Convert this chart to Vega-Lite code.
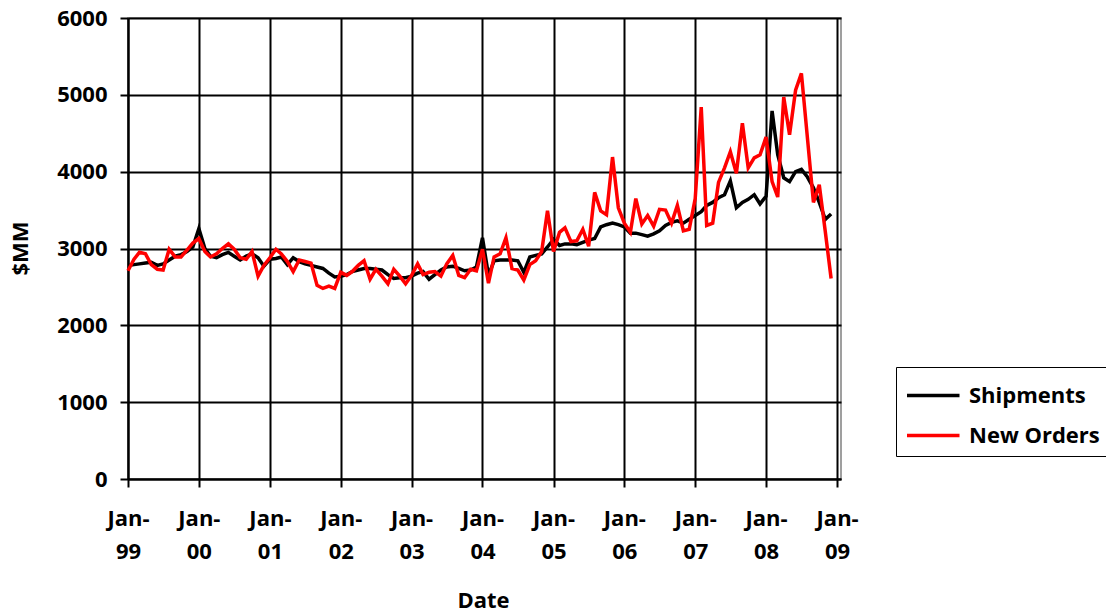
{
  "$schema": "https://vega.github.io/schema/vega-lite/v6.json",
  "width": 713,
  "height": 461,
  "autosize": {"type": "none"},
  "padding": {"left": 128, "top": 18, "right": 265, "bottom": 134},
  "background": "white",
  "config": {
    "font": "Open Sans",
    "view": {"stroke": "#808080", "strokeWidth": 1.5},
    "axis": {
      "labelFont": "Open Sans", "titleFont": "Open Sans",
      "labelFontSize": 22, "labelFontWeight": "bold", "labelColor": "black",
      "titleFontSize": 22, "titleFontWeight": "bold", "titleColor": "black",
      "grid": true, "gridColor": "black", "gridWidth": 2, "gridOpacity": 1,
      "domainColor": "black", "domainWidth": 2,
      "tickColor": "black", "tickWidth": 2, "tickSize": 8
    },
    "legend": {
      "labelFont": "Open Sans", "labelFontSize": 22, "labelFontWeight": "bold", "labelColor": "black"
    }
  },
  "data": {
    "values": [
      {"d": "1999-01-01", "Shipments": 2780, "New Orders": 2710},
      {"d": "1999-02-01", "Shipments": 2790, "New Orders": 2860},
      {"d": "1999-03-01", "Shipments": 2800, "New Orders": 2950},
      {"d": "1999-04-01", "Shipments": 2810, "New Orders": 2930},
      {"d": "1999-05-01", "Shipments": 2820, "New Orders": 2790},
      {"d": "1999-06-01", "Shipments": 2780, "New Orders": 2730},
      {"d": "1999-07-01", "Shipments": 2800, "New Orders": 2720},
      {"d": "1999-08-01", "Shipments": 2850, "New Orders": 2990},
      {"d": "1999-09-01", "Shipments": 2900, "New Orders": 2890},
      {"d": "1999-10-01", "Shipments": 2920, "New Orders": 2890},
      {"d": "1999-11-01", "Shipments": 2960, "New Orders": 2980},
      {"d": "1999-12-01", "Shipments": 3020, "New Orders": 3070},
      {"d": "2000-01-01", "Shipments": 3260, "New Orders": 3130},
      {"d": "2000-02-01", "Shipments": 3000, "New Orders": 2960},
      {"d": "2000-03-01", "Shipments": 2900, "New Orders": 2890},
      {"d": "2000-04-01", "Shipments": 2880, "New Orders": 2930},
      {"d": "2000-05-01", "Shipments": 2920, "New Orders": 3000},
      {"d": "2000-06-01", "Shipments": 2950, "New Orders": 3060},
      {"d": "2000-07-01", "Shipments": 2900, "New Orders": 2990},
      {"d": "2000-08-01", "Shipments": 2850, "New Orders": 2880},
      {"d": "2000-09-01", "Shipments": 2900, "New Orders": 2860},
      {"d": "2000-10-01", "Shipments": 2930, "New Orders": 2960},
      {"d": "2000-11-01", "Shipments": 2880, "New Orders": 2640},
      {"d": "2000-12-01", "Shipments": 2770, "New Orders": 2780},
      {"d": "2001-01-01", "Shipments": 2860, "New Orders": 2880},
      {"d": "2001-02-01", "Shipments": 2870, "New Orders": 2990},
      {"d": "2001-03-01", "Shipments": 2890, "New Orders": 2930},
      {"d": "2001-04-01", "Shipments": 2790, "New Orders": 2830},
      {"d": "2001-05-01", "Shipments": 2880, "New Orders": 2700},
      {"d": "2001-06-01", "Shipments": 2830, "New Orders": 2850},
      {"d": "2001-07-01", "Shipments": 2800, "New Orders": 2830},
      {"d": "2001-08-01", "Shipments": 2780, "New Orders": 2810},
      {"d": "2001-09-01", "Shipments": 2760, "New Orders": 2520},
      {"d": "2001-10-01", "Shipments": 2740, "New Orders": 2480},
      {"d": "2001-11-01", "Shipments": 2680, "New Orders": 2510},
      {"d": "2001-12-01", "Shipments": 2630, "New Orders": 2480},
      {"d": "2002-01-01", "Shipments": 2640, "New Orders": 2690},
      {"d": "2002-02-01", "Shipments": 2660, "New Orders": 2650},
      {"d": "2002-03-01", "Shipments": 2700, "New Orders": 2700},
      {"d": "2002-04-01", "Shipments": 2720, "New Orders": 2780},
      {"d": "2002-05-01", "Shipments": 2740, "New Orders": 2840},
      {"d": "2002-06-01", "Shipments": 2740, "New Orders": 2600},
      {"d": "2002-07-01", "Shipments": 2730, "New Orders": 2730},
      {"d": "2002-08-01", "Shipments": 2720, "New Orders": 2640},
      {"d": "2002-09-01", "Shipments": 2660, "New Orders": 2540},
      {"d": "2002-10-01", "Shipments": 2610, "New Orders": 2730},
      {"d": "2002-11-01", "Shipments": 2620, "New Orders": 2640},
      {"d": "2002-12-01", "Shipments": 2620, "New Orders": 2540},
      {"d": "2003-01-01", "Shipments": 2640, "New Orders": 2650},
      {"d": "2003-02-01", "Shipments": 2680, "New Orders": 2800},
      {"d": "2003-03-01", "Shipments": 2700, "New Orders": 2660},
      {"d": "2003-04-01", "Shipments": 2600, "New Orders": 2690},
      {"d": "2003-05-01", "Shipments": 2660, "New Orders": 2700},
      {"d": "2003-06-01", "Shipments": 2720, "New Orders": 2640},
      {"d": "2003-07-01", "Shipments": 2760, "New Orders": 2800},
      {"d": "2003-08-01", "Shipments": 2770, "New Orders": 2910},
      {"d": "2003-09-01", "Shipments": 2740, "New Orders": 2650},
      {"d": "2003-10-01", "Shipments": 2710, "New Orders": 2620},
      {"d": "2003-11-01", "Shipments": 2720, "New Orders": 2730},
      {"d": "2003-12-01", "Shipments": 2760, "New Orders": 2710},
      {"d": "2004-01-01", "Shipments": 3140, "New Orders": 2990},
      {"d": "2004-02-01", "Shipments": 2650, "New Orders": 2550},
      {"d": "2004-03-01", "Shipments": 2840, "New Orders": 2890},
      {"d": "2004-04-01", "Shipments": 2850, "New Orders": 2930},
      {"d": "2004-05-01", "Shipments": 2850, "New Orders": 3140},
      {"d": "2004-06-01", "Shipments": 2850, "New Orders": 2740},
      {"d": "2004-07-01", "Shipments": 2840, "New Orders": 2720},
      {"d": "2004-08-01", "Shipments": 2690, "New Orders": 2590},
      {"d": "2004-09-01", "Shipments": 2890, "New Orders": 2790},
      {"d": "2004-10-01", "Shipments": 2910, "New Orders": 2840},
      {"d": "2004-11-01", "Shipments": 2930, "New Orders": 2960},
      {"d": "2004-12-01", "Shipments": 3020, "New Orders": 3490},
      {"d": "2005-01-01", "Shipments": 3120, "New Orders": 2960},
      {"d": "2005-02-01", "Shipments": 3040, "New Orders": 3210},
      {"d": "2005-03-01", "Shipments": 3060, "New Orders": 3270},
      {"d": "2005-04-01", "Shipments": 3060, "New Orders": 3090},
      {"d": "2005-05-01", "Shipments": 3050, "New Orders": 3100},
      {"d": "2005-06-01", "Shipments": 3080, "New Orders": 3250},
      {"d": "2005-07-01", "Shipments": 3110, "New Orders": 3030},
      {"d": "2005-08-01", "Shipments": 3130, "New Orders": 3730},
      {"d": "2005-09-01", "Shipments": 3280, "New Orders": 3490},
      {"d": "2005-10-01", "Shipments": 3310, "New Orders": 3440},
      {"d": "2005-11-01", "Shipments": 3330, "New Orders": 4190},
      {"d": "2005-12-01", "Shipments": 3310, "New Orders": 3530},
      {"d": "2006-01-01", "Shipments": 3280, "New Orders": 3330},
      {"d": "2006-02-01", "Shipments": 3200, "New Orders": 3210},
      {"d": "2006-03-01", "Shipments": 3200, "New Orders": 3650},
      {"d": "2006-04-01", "Shipments": 3180, "New Orders": 3320},
      {"d": "2006-05-01", "Shipments": 3160, "New Orders": 3430},
      {"d": "2006-06-01", "Shipments": 3190, "New Orders": 3290},
      {"d": "2006-07-01", "Shipments": 3230, "New Orders": 3510},
      {"d": "2006-08-01", "Shipments": 3300, "New Orders": 3500},
      {"d": "2006-09-01", "Shipments": 3340, "New Orders": 3330},
      {"d": "2006-10-01", "Shipments": 3360, "New Orders": 3560},
      {"d": "2006-11-01", "Shipments": 3330, "New Orders": 3230},
      {"d": "2006-12-01", "Shipments": 3380, "New Orders": 3250},
      {"d": "2007-01-01", "Shipments": 3430, "New Orders": 3650},
      {"d": "2007-02-01", "Shipments": 3480, "New Orders": 4840},
      {"d": "2007-03-01", "Shipments": 3560, "New Orders": 3300},
      {"d": "2007-04-01", "Shipments": 3600, "New Orders": 3330},
      {"d": "2007-05-01", "Shipments": 3660, "New Orders": 3860},
      {"d": "2007-06-01", "Shipments": 3700, "New Orders": 4050},
      {"d": "2007-07-01", "Shipments": 3880, "New Orders": 4260},
      {"d": "2007-08-01", "Shipments": 3530, "New Orders": 3980},
      {"d": "2007-09-01", "Shipments": 3600, "New Orders": 4630},
      {"d": "2007-10-01", "Shipments": 3640, "New Orders": 4050},
      {"d": "2007-11-01", "Shipments": 3700, "New Orders": 4180},
      {"d": "2007-12-01", "Shipments": 3580, "New Orders": 4220},
      {"d": "2008-01-01", "Shipments": 3680, "New Orders": 4450},
      {"d": "2008-02-01", "Shipments": 4790, "New Orders": 3870},
      {"d": "2008-03-01", "Shipments": 4220, "New Orders": 3670},
      {"d": "2008-04-01", "Shipments": 3920, "New Orders": 4970},
      {"d": "2008-05-01", "Shipments": 3870, "New Orders": 4480},
      {"d": "2008-06-01", "Shipments": 4000, "New Orders": 5060},
      {"d": "2008-07-01", "Shipments": 4030, "New Orders": 5280},
      {"d": "2008-08-01", "Shipments": 3930, "New Orders": 4440},
      {"d": "2008-09-01", "Shipments": 3790, "New Orders": 3600},
      {"d": "2008-10-01", "Shipments": 3600, "New Orders": 3830},
      {"d": "2008-11-01", "Shipments": 3380, "New Orders": 3220},
      {"d": "2008-12-01", "Shipments": 3450, "New Orders": 2610}
    ]
  },
  "transform": [{"fold": ["Shipments", "New Orders"], "as": ["series", "value"]}],
  "encoding": {
    "x": {
      "field": "d", "type": "temporal",
      "scale": {"type": "utc", "domain": [{"year": 1999, "month": 1, "date": 1, "utc": true}, {"year": 2009, "month": 1, "date": 21, "utc": true}]},
      "axis": {
        "title": "Date",
        "values": [
          {"year": 1999, "month": 1, "date": 1, "utc": true},
          {"year": 2000, "month": 1, "date": 1, "utc": true},
          {"year": 2001, "month": 1, "date": 1, "utc": true},
          {"year": 2002, "month": 1, "date": 1, "utc": true},
          {"year": 2003, "month": 1, "date": 1, "utc": true},
          {"year": 2004, "month": 1, "date": 1, "utc": true},
          {"year": 2005, "month": 1, "date": 1, "utc": true},
          {"year": 2006, "month": 1, "date": 1, "utc": true},
          {"year": 2007, "month": 1, "date": 1, "utc": true},
          {"year": 2008, "month": 1, "date": 1, "utc": true},
          {"year": 2009, "month": 1, "date": 1, "utc": true}
        ],
        "labelExpr": "['Jan-', utcFormat(datum.value, '%y')]",
        "labelLineHeight": 33,
        "labelPadding": 21,
        "labelFlush": false,
        "labelOverlap": false,
        "titleX": 355,
        "titleY": 121,
        "titleBaseline": "middle"
      }
    },
    "y": {
      "field": "value", "type": "quantitative",
      "scale": {"domain": [0, 6000], "nice": false, "zero": true},
      "axis": {
        "title": "$MM",
        "format": "d",
        "values": [0, 1000, 2000, 3000, 4000, 5000, 6000],
        "labelPadding": 13,
        "titleX": -108,
        "titleY": 230,
        "titleAngle": -90,
        "titleBaseline": "middle"
      }
    },
    "color": {
      "field": "series", "type": "nominal",
      "scale": {"domain": ["Shipments", "New Orders"], "range": ["#000000", "#ff0000"]},
      "legend": {
        "title": null,
        "orient": "none",
        "legendX": 768,
        "legendY": 349,
        "symbolType": "M-1,0H2",
        "symbolSize": 1225,
        "symbolStrokeWidth": 3.5,
        "strokeColor": "black",
        "fillColor": "white",
        "padding": 9,
        "rowPadding": 9,
        "labelOffset": 25,
        "labelLimit": 300
      }
    }
  },
  "layer": [
    {
      "transform": [{"filter": "datum.series === 'Shipments'"}],
      "mark": {"type": "line", "strokeWidth": 3.5}
    },
    {
      "transform": [{"filter": "datum.series === 'New Orders'"}],
      "mark": {"type": "line", "strokeWidth": 3.5}
    }
  ]
}
